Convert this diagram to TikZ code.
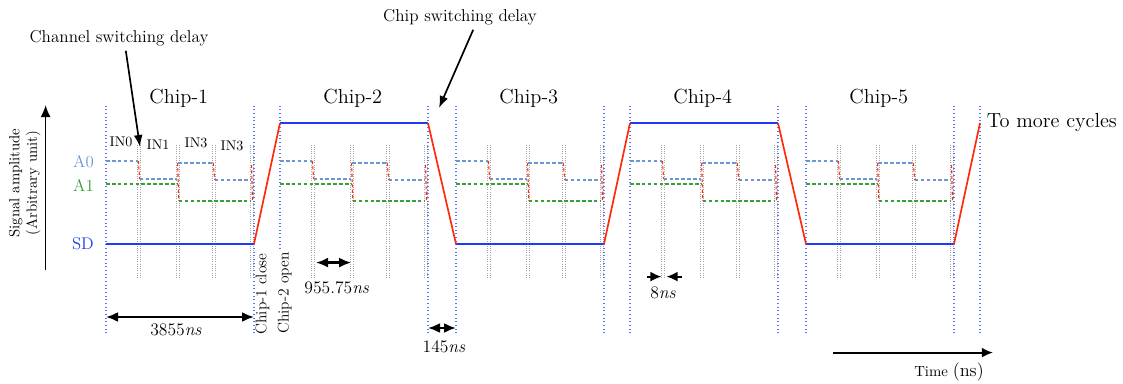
\documentclass[tikz,border=0pt]{standalone}
\usetikzlibrary{arrows.meta,calc}
\definecolor{sdblue}{HTML}{1E3CF0}
\definecolor{aoblue}{HTML}{6A96D2}
\definecolor{aigreen}{HTML}{3A9E3A}
\definecolor{rampred}{HTML}{FF2A0A}
\definecolor{edgeblue}{HTML}{5A78F5}
\definecolor{edgegray}{HTML}{A5A5A5}
\tikzset{
  sdline/.style={draw=sdblue, line width=1.9pt},
  rampline/.style={draw=rampred, line width=1.2pt},
  aoline/.style={draw=aoblue, line width=.8pt, dash pattern=on 2.6pt off 1.6pt},
  ailine/.style={draw=aigreen, line width=.8pt, dash pattern=on 2.6pt off 1.6pt},
  swline/.style={draw=rampred, line width=.8pt, dash pattern=on 2.2pt off 1.6pt},
  chipedge/.style={draw=edgeblue, line width=.8pt, dash pattern=on .6pt off 2pt},
  chanedge/.style={draw=edgegray, line width=.6pt, dash pattern=on .6pt off 1pt},
  dimarrow/.style={{Latex[length=3mm,width=2.5mm]}-{Latex[length=3mm,width=2.5mm]},
    line width=1.6pt},
  tickarrow/.style={-{Latex[length=2.8mm,width=2.5mm]}, line width=1.5pt},
  callout/.style={-{Latex[length=3mm,width=2.2mm]}, line width=1.2pt},
  axisarrow/.style={-{Latex[length=3mm,width=2.5mm]}, line width=1.2pt},
  chiptitle/.style={font=\fontsize{14.5}{16}\selectfont},
  calltext/.style={font=\fontsize{12.2}{14}\selectfont},
  dimtext/.style={font=\fontsize{12.5}{14}\selectfont},
  levtext/.style={font=\fontsize{12}{14}\selectfont, anchor=east},
  chantext/.style={font=\fontsize{10}{12}\selectfont},
  sidetext/.style={font=\fontsize{11}{13}\selectfont, rotate=90}
}

\begin{document}
\begin{tikzpicture}[x=1cm,y=1cm]
  \useasboundingbox (0,0) rectangle (28.075,9.575);
  % one block per chip: start x / SD level
  \foreach \s/\lev [count=\k] in {2.65/3.475,7.00/6.50,11.40/3.475,15.75/6.50,20.15/3.475} {
    \foreach \o in {.825,1.80,2.70,3.65} {
      \draw[chanedge] (\s+\o-.04,2.625) -- (\s+\o-.04,5.95);
      \draw[chanedge] (\s+\o+.04,2.625) -- (\s+\o+.04,5.95);
    }
    \draw[chipedge] (\s,1.25) -- (\s,6.95);
    \draw[chipedge] (\s+3.70,1.25) -- (\s+3.70,6.95);
    \draw[aoline] (\s,5.55) -- (\s+.81,5.55) (\s+.84,5.10) -- (\s+1.78,5.10)
      (\s+1.81,5.50) -- (\s+2.68,5.50) (\s+2.72,5.075) -- (\s+3.63,5.075);
    \draw[ailine] (\s,4.975) -- (\s+1.78,4.975) (\s+1.82,4.55) -- (\s+3.63,4.55);
    \draw[swline] (\s+.81,5.55) -- (\s+.84,5.10) (\s+1.79,5.50) -- (\s+1.82,4.55)
      (\s+2.68,5.50) -- (\s+2.72,5.075) (\s+3.64,5.45) -- (\s+3.66,4.55);
    \coordinate (sd\k a) at (\s,\lev);
    \coordinate (sd\k b) at (\s+3.70,\lev);
    \draw[sdline] (sd\k a) -- (sd\k b);
    \node[chiptitle] (chip\k) at (\s+1.82,7.125) {Chip-\k};
  }
  \coordinate (more) at (24.50,6.50);
  \draw[chipedge] (24.50,1.25) -- (24.50,6.95);
  \draw[rampline] (sd1b) -- (sd2a) (sd2b) -- (sd3a) (sd3b) -- (sd4a)
    (sd4b) -- (sd5a) (sd5b) -- (more);
  \node[font=\fontsize{14.5}{16}\selectfont, anchor=west] (cycles) at (24.55,6.50) {To more cycles};

  % levels and axis
  \node[levtext, text=aoblue] (lvA0) at (2.47,5.53) {A0};
  \node[levtext, text=aigreen] (lvA1) at (2.47,4.95) {A1};
  \node[levtext, text=sdblue] (lvSD) at (2.47,3.475) {SD};
  \coordinate (ybase) at (1.14,2.825);
  \coordinate (ytop) at (1.14,6.95);
  \draw[axisarrow] (ybase) -- (ytop);
  \node[font=\fontsize{10.5}{12.5}\selectfont, rotate=90, align=center] (ylab)
    at (.62,5.0) {Signal amplitude\\(Arbitrary unit)};

  \node[chantext] (in0) at (3.025,6.025) {IN0};
  \node[chantext] (in1) at (3.95,5.95) {IN1};
  \node[chantext] (in3a) at (4.90,6.00) {IN3};
  \node[chantext] (in3b) at (5.80,5.925) {IN3};

  % callouts
  \node[calltext] (chdelay) at (2.975,8.625) {Channel switching delay};
  \coordinate (chtip) at (3.50,5.90);
  \draw[callout] ($(chdelay.south)+(.17,0)$) -- (chtip);
  \node[calltext] (swdelay) at (11.50,9.15) {Chip switching delay};
  \coordinate (swtip) at (10.975,6.875);
  \draw[callout] ($(swdelay.south)+(.33,0)$) -- (swtip);

  \node[sidetext] (close1) at (6.56,2.225) {Chip-1 close};
  \node[sidetext, fill=white, inner sep=1pt] (open2) at (7.12,2.25) {Chip-2 open};

  % durations
  \coordinate (w1a) at (2.65,1.65);
  \coordinate (w1b) at (6.35,1.65);
  \draw[dimarrow] (w1a) -- (w1b);
  \node[dimtext] (w1) at (4.40,1.33) {3855\textit{ns}};
  \coordinate (w2a) at (7.90,3.01);
  \coordinate (w2b) at (8.78,3.01);
  \draw[dimarrow] (w2a) -- (w2b);
  \node[dimtext] (w2) at (8.42,2.39) {955.75\textit{ns}};
  \coordinate (w3a) at (10.70,1.375);
  \coordinate (w3b) at (11.40,1.375);
  \draw[dimarrow] (w3a) -- (w3b);
  \node[dimtext] (w3) at (11.10,0.90) {145\textit{ns}};
  \coordinate (w4a) at (16.18,2.66);
  \coordinate (w4b) at (16.54,2.66);
  \coordinate (w4c) at (17.05,2.66);
  \coordinate (w4d) at (16.66,2.66);
  \draw[tickarrow] (w4a) -- (w4b);
  \draw[tickarrow] (w4c) -- (w4d);
  \node[dimtext] (w4) at (16.575,2.26) {8\textit{ns}};

  \coordinate (t0) at (20.825,0.76);
  \coordinate (t1) at (24.825,0.76);
  \draw[tickarrow, line width=1.4pt] (t0) -- (t1);
  \node (tlab) at (23.725,0.28) {\fontsize{10.5}{12}\selectfont Time \fontsize{13}{14}\selectfont(ns)};
\end{tikzpicture}
\end{document}
